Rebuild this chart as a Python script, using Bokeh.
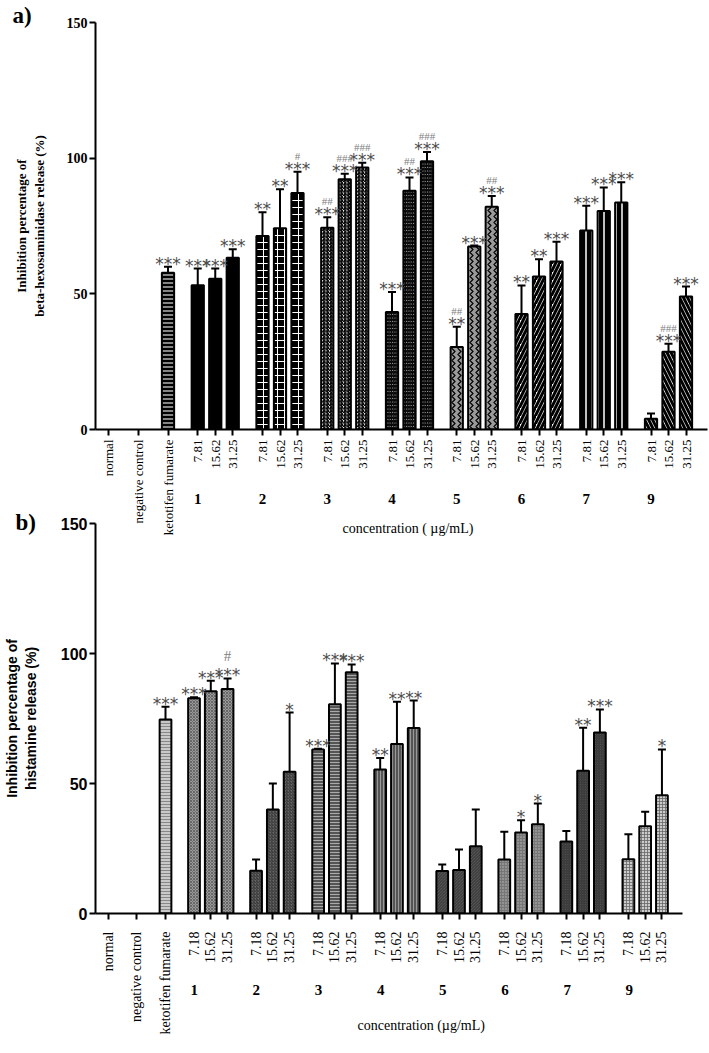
import math
from bokeh.plotting import figure
from bokeh.models import ColumnDataSource, Range1d, FixedTicker, Whisker, TeeHead
from bokeh.layouts import column
from bokeh.core.properties import value
from bokeh.embed import file_html
from bokeh.resources import INLINE

# ---------------- data ----------------
controls = ["normal", "negative control", "ketotifen fumarate"]
compounds = ["1", "2", "3", "4", "5", "6", "7", "9"]
conc_a = ["7.81", "15.62", "31.25"]
conc_b = ["7.18", "15.62", "31.25"]

# panel a: beta-hexosaminidase release inhibition (%)
a_ctrl_mean = [0, 0, 57.8]
a_ctrl_err = [0, 0, 2.2]
a_ctrl_sig = ["", "", "***"]
a_mean = [[53.2, 55.6, 63.3], [71.3, 74.2, 87.2], [74.4, 92.2, 96.6], [43.3, 88.0, 98.9],
          [30.4, 67.4, 82.1], [42.6, 56.4, 61.9], [73.3, 80.5, 83.7], [4.0, 28.7, 49.0]]
a_err = [[6.1, 3.7, 3.1], [8.8, 14.3, 7.8], [3.8, 2.1, 1.7], [7.4, 4.9, 3.4],
         [7.5, 0.4, 4.0], [10.5, 6.3, 7.3], [9.2, 8.7, 7.4], [1.9, 2.9, 3.7]]
a_sig = [["***", "***", "***"], ["**", "**", "***"], ["***", "***", "***"], ["***", "***", "***"],
         ["**", "***", "***"], ["**", "**", "***"], ["***", "***", "***"], ["", "***", "***"]]
a_hash = [["", "", ""], ["", "", "#"], ["##", "###", "###"], ["", "##", "###"],
          ["##", "", "##"], ["", "", ""], ["", "", ""], ["", "###", ""]]

# panel b: histamine release inhibition (%)
b_ctrl_mean = [0, 0, 74.6]
b_ctrl_err = [0, 0, 4.9]
b_ctrl_sig = ["", "", "***"]
b_mean = [[82.8, 85.5, 86.3], [16.4, 40.0, 54.5], [63.1, 80.5, 92.8], [55.4, 65.2, 71.3],
          [16.3, 16.7, 25.9], [20.8, 31.2, 34.3], [27.7, 54.9, 69.6], [20.9, 33.6, 45.5]]
b_err = [[0.4, 4.0, 4.1], [4.4, 10.0, 22.8], [0.3, 15.7, 3.0], [4.4, 16.2, 10.6],
         [2.5, 7.9, 14.1], [10.6, 4.7, 8.0], [4.0, 16.5, 8.9], [9.6, 5.5, 17.6]]
b_sig = [["***", "***", "***"], ["", "", "*"], ["***", "***", "***"], ["**", "**", "**"],
         ["", "", ""], ["", "*", "*"], ["", "**", "***"], ["", "", "*"]]
b_hash = [["", "", "#"], ["", "", ""], ["", "", ""], ["", "", ""],
          ["", "", ""], ["", "", ""], ["", "", ""], ["", "", ""]]

# ---------------- styles ----------------
# (fill, hatch pattern, hatch color, hatch scale, hatch weight) : keto, then compounds
a_styles = [("black", "horizontal_line", "#dddddd", 4, 1.2),
            ("black", " ", "white", 4, 1),
            ("black", "cross", "white", 7, 1),
            ("white", "right_diagonal_line", "black", 3.5, 1.5),
            ("white", "left_diagonal_line", "black", 3.5, 1.5),
            ("#9a9a9a", "vertical_wave", "black", 6, 1.2),
            ("white", "right_diagonal_line", "black", 8, 3),
            ("black", "vertical_line", "white", 6, 1.5),
            ("white", "left_diagonal_line", "black", 8, 3)]
b_styles = [("#c8c8c8", "horizontal_line", "#888888", 3, 1),
            ("#999999", "diagonal_cross", "#5a5a5a", 3, 0.8),
            ("#666666", "right_diagonal_line", "#333333", 3, 1),
            ("#555555", "horizontal_line", "#aaaaaa", 3, 1),
            ("#555555", "vertical_line", "#999999", 3, 1),
            ("#666666", "left_diagonal_line", "#333333", 3, 1),
            ("#777777", "dot", "#bbbbbb", 3, 1),
            ("#666666", "left_diagonal_line", "#333333", 2.5, 1),
            ("#cccccc", "cross", "#666666", 3, 0.8)]

SERIF = "Liberation Serif"
SANS = "Liberation Sans"

ctrl_pos = [0, 17, 34]


def comp_pos(k, j):
    return 51 + 37 * k + 10 * j


def make_panel(ctrl_mean, ctrl_err, ctrl_sig, means, errs, sigs, hashes, conc, styles,
               ppx, ppy, width, height, b_left, b_right, b_top, b_bottom, ylabel, yfont, yfs,
               ylab_font, ylab_fs, ylab_standoff, xfs, x_standoff, letter, letter_px, letter_py,
               num_dy, conc_px, conc_dy, conc_text, hash_dy, hash_fs):
    frame_w = width - b_left - b_right
    x0 = -13.0 / ppx
    p = figure(width=width, height=height, output_backend="svg", toolbar_location=None,
               x_range=Range1d(x0, x0 + frame_w / ppx), y_range=Range1d(0, 150),
               min_border_left=b_left, min_border_right=b_right, min_border_top=b_top,
               min_border_bottom=b_bottom)
    p.outline_line_color = None
    p.xgrid.visible = False
    p.ygrid.visible = False
    p.background_fill_color = None
    p.border_fill_color = None

    rows = dict(x=[], top=[], upper=[], fill=[], hatch=[], hcol=[], hscale=[], hweight=[],
                sig=[], hsh=[], sig_y=[], hash_y=[])

    def add(x, m, e, s, h, st):
        rows["x"].append(x)
        rows["top"].append(m)
        rows["upper"].append(m + e)
        rows["fill"].append(st[0])
        rows["hatch"].append(st[1])
        rows["hcol"].append(st[2])
        rows["hscale"].append(st[3])
        rows["hweight"].append(st[4])
        rows["sig"].append(s)
        rows["hsh"].append(h)
        rows["sig_y"].append(m + e + 3.0 / ppy)
        rows["hash_y"].append(m + e + hash_dy / ppy)

    for i in range(3):
        if ctrl_mean[i] > 0:
            add(ctrl_pos[i], ctrl_mean[i], ctrl_err[i], ctrl_sig[i], "", styles[0])
    for k in range(len(compounds)):
        for j in range(3):
            add(comp_pos(k, j), means[k][j], errs[k][j], sigs[k][j], hashes[k][j], styles[k + 1])

    src = ColumnDataSource(rows)
    p.vbar(x="x", top="top", bottom=0, width=7, source=src, fill_color="fill",
           hatch_pattern="hatch", hatch_color="hcol", hatch_scale="hscale",
           hatch_weight="hweight", line_color="black", line_width=2)
    p.add_layout(Whisker(base="x", lower="top", upper="upper", source=src, line_width=2,
                         line_color="black", lower_head=None,
                         upper_head=TeeHead(size=8, line_width=2, line_color="black")))
    p.text(x="x", y="sig_y", text="sig", source=src, text_font=value("DejaVu Sans"),
           text_font_size="17px", text_color="#4d4d4d", text_align="center",
           text_baseline="alphabetic")
    p.text(x="x", y="hash_y", text="hsh", source=src, text_font=value(SERIF),
           text_font_size=hash_fs, text_color="#808080", text_align="center",
           text_baseline="alphabetic")

    # x axis
    ticks = list(ctrl_pos)
    overrides = {ctrl_pos[i]: controls[i] for i in range(3)}
    for k in range(len(compounds)):
        for j in range(3):
            ticks.append(comp_pos(k, j))
            overrides[comp_pos(k, j)] = conc[j]
    xa = p.xaxis[0]
    xa.ticker = FixedTicker(ticks=ticks)
    xa.major_label_overrides = overrides
    xa.major_label_orientation = math.pi / 2
    xa.major_label_text_font = SERIF
    xa.major_label_text_font_size = xfs
    xa.major_label_text_color = "black"
    xa.major_label_standoff = x_standoff
    xa.axis_line_width = 2
    xa.major_tick_line_width = 2
    xa.major_tick_out = 6
    xa.major_tick_in = 0
    xa.minor_tick_line_color = None

    ya = p.yaxis[0]
    ya.ticker = FixedTicker(ticks=[0, 50, 100, 150])
    ya.major_label_text_font = yfont
    ya.major_label_text_font_style = "bold"
    ya.major_label_text_font_size = yfs
    ya.major_label_text_color = "black"
    ya.major_label_standoff = 2
    ya.axis_line_width = 2
    ya.major_tick_line_width = 2
    ya.major_tick_out = 6
    ya.major_tick_in = 0
    ya.minor_tick_line_color = None
    ya.axis_label = ylabel
    ya.axis_label_text_font = ylab_font
    ya.axis_label_text_font_style = "bold"
    ya.axis_label_text_font_size = ylab_fs
    ya.axis_label_text_color = "black"
    ya.axis_label_standoff = ylab_standoff

    # transparent overlay covering the whole panel, same data scales, for texts outside the frame
    q = figure(width=width, height=height, output_backend="svg", toolbar_location=None,
               x_range=Range1d(x0 - b_left / ppx, x0 + (width - b_left) / ppx),
               y_range=Range1d(-b_bottom / ppy, 150 + b_top / ppy),
               min_border=0, x_axis_type=None, y_axis_type=None)
    q.frame_align = False
    q.outline_line_color = None
    q.xgrid.visible = False
    q.ygrid.visible = False
    q.background_fill_color = None
    q.border_fill_color = None
    q.margin = (-height, 0, 0, 0)

    num_src = ColumnDataSource(dict(x=[comp_pos(k, 0) for k in range(len(compounds))],
                                    y=[-num_dy / ppy] * len(compounds), t=compounds))
    q.text(x="x", y="y", text="t", source=num_src, text_font=value(SERIF),
           text_font_style="bold", text_font_size="15px", text_align="center",
           text_baseline="middle", text_color="black")
    q.text(x=[conc_px / ppx], y=[-conc_dy / ppy], text=[conc_text], text_font=value(SERIF),
           text_font_size="14px", text_align="left", text_baseline="middle", text_color="black")
    q.text(x=[letter_px / ppx], y=[150 + (b_top - letter_py) / ppy], text=[letter],
           text_font=value(SERIF), text_font_style="bold", text_font_size="23px",
           text_align="left", text_baseline="top", text_color="black")
    return p, q


pa, qa = make_panel(a_ctrl_mean, a_ctrl_err, a_ctrl_sig, a_mean, a_err, a_sig, a_hash, conc_a,
                    a_styles, ppx=1.75, ppy=2.72, width=709, height=538, b_left=95, b_right=2,
                    b_top=22, b_bottom=108,
                    ylabel="Inhibition percentage of\nbeta-hexosaminidase release (%)",
                    yfont=SERIF, yfs="14px", ylab_font=SERIF, ylab_fs="13px", ylab_standoff=17,
                    xfs="13px", x_standoff=4, letter="a)", letter_px=-96, letter_py=2,
                    num_dy=68, conc_px=234, conc_dy=98, conc_text="concentration ( \u00b5g/mL)",
                    hash_dy=16, hash_fs="11px")

pb, qb = make_panel(b_ctrl_mean, b_ctrl_err, b_ctrl_sig, b_mean, b_err, b_sig, b_hash, conc_b,
                    b_styles, ppx=1.68, ppy=2.6, width=684, height=547, b_left=95, b_right=1,
                    b_top=18, b_bottom=139,
                    ylabel="Inhibition percentage of\nhistamine release (%)",
                    yfont=SANS, yfs="16px", ylab_font=SANS, ylab_fs="14px", ylab_standoff=19,
                    xfs="14px", x_standoff=12, letter="b)", letter_px=-93, letter_py=4,
                    num_dy=76, conc_px=249, conc_dy=112, conc_text="concentration (\u00b5g/mL)",
                    hash_dy=22, hash_fs="15px")
pb.margin = (-33, 0, 0, 0)

layout = column(pa, qa, pb, qb)
open("out.html", "w").write(file_html(layout, INLINE))
